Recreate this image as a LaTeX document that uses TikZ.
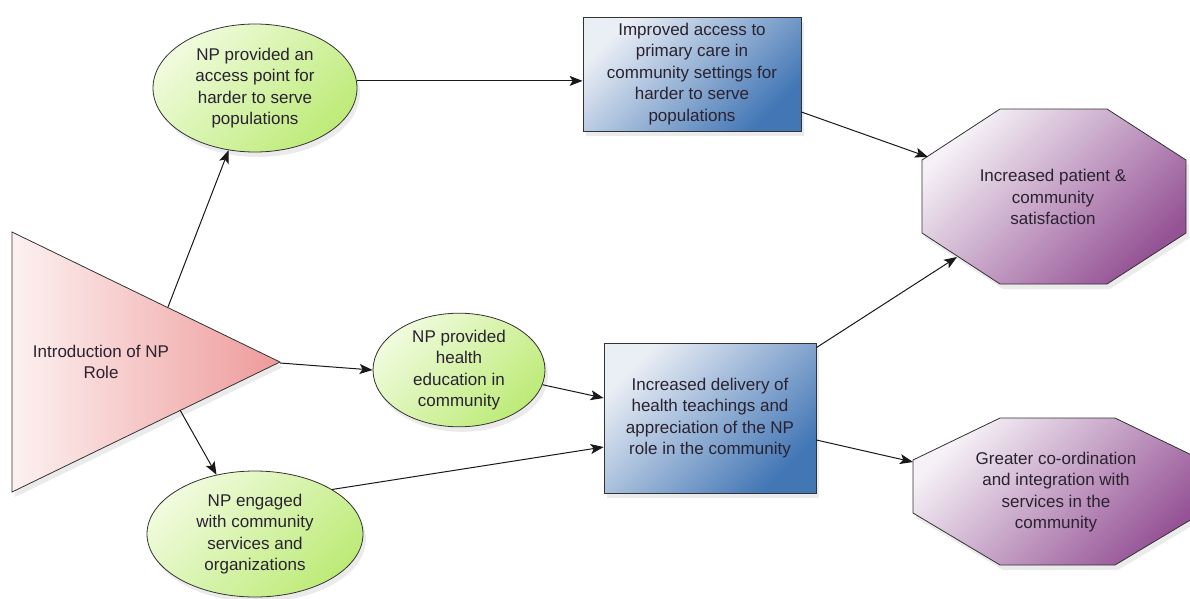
\documentclass[tikz,border=0pt]{standalone}
\usepackage{fontspec}
\setmainfont{Liberation Sans}
\usetikzlibrary{arrows.meta,shapes.geometric,shadows}
\definecolor{gA}{HTML}{F0FBDD}
\definecolor{gB}{HTML}{BDEB78}
\definecolor{bA}{HTML}{EAEEF5}
\definecolor{bM}{HTML}{C6D3E5}
\definecolor{bB}{HTML}{4276B5}
\definecolor{pA}{HTML}{F5F1F6}
\definecolor{pM}{HTML}{D2BAD3}
\definecolor{pB}{HTML}{955295}
\definecolor{rA}{HTML}{FDF1F1}
\definecolor{rB}{HTML}{EE9A9A}
\definecolor{txt}{HTML}{2A2230}
\begin{document}
\begin{tikzpicture}[x=1pt,y=-1pt,
  lbl/.style={font=\fontsize{17}{21.5}\selectfont, text=txt, align=center},
  shad/.style={drop shadow={opacity=0.16,shadow xshift=3pt,shadow yshift=-5pt}},
  outl/.style={draw=black!80, line width=0.8pt},
  ell/.style={ellipse, outl, top color=gA, bottom color=gB, shading angle=45, inner sep=0pt, lbl, shad},
  bluebox/.style={rectangle, outl, top color=bA, middle color=bM, bottom color=bB, shading angle=45, inner sep=0pt, lbl, shad},
  octa/.style={outl, top color=pA, middle color=pM, bottom color=pB, shading angle=45, shad},
  arr/.style={-{Stealth[length=13pt,width=10pt,inset=3pt]}, line width=1pt, draw=black!90}
]
\useasboundingbox (0,0) rectangle (1190,598);
\clip (0,0) rectangle (1190,598);

% triangle
\path[outl, left color=rA, right color=rB, shad] (12,232) -- (280,362) -- (12,492) -- cycle;
\node[lbl] (tri) at (101,362) {Introduction of NP\\Role};
\coordinate (triup) at (168,307);
\coordinate (triapex) at (280,363);
\coordinate (trilow) at (180,410);

% ellipses
\node[ell, minimum width=204pt, minimum height=128pt] (e1) at (255,88)
  {NP provided an\\access point for\\harder to serve\\populations};
\node[ell, minimum width=172pt, minimum height=110pt] (e2) at (459,370)
  {NP provided\\health\\education in\\community};
\node[ell, minimum width=216pt, minimum height=126pt] (e3) at (255,534)
  {NP engaged\\with community\\services and\\organizations};

% boxes
\node[bluebox, minimum width=218pt, minimum height=114pt] (b1) at (692,74)
  {Improved access to\\primary care in\\community settings for\\harder to serve\\populations};
\node[bluebox, minimum width=212pt, minimum height=150pt] (b2) at (710,418)
  {Increased delivery of\\health teachings and\\appreciation of the NP\\role in the community};

% octagons
\path[octa] (922,160) -- (1000,109) -- (1107,109) -- (1186,160) -- (1186,233) -- (1107,284) -- (1000,284) -- (922,233) -- cycle;
\node[lbl] (o1) at (1053,197) {Increased patient \&\\community\\satisfaction};
\coordinate (o1a) at (928,157);
\coordinate (o1b) at (957,257);

\path[octa] (913,460) -- (1000,418) -- (1115,418) -- (1202,460) -- (1202,513) -- (1115,565) -- (1000,565) -- (913,513) -- cycle;
\node[lbl] (o2) at (1056,492) {Greater co-ordination\\and integration with\\services in the\\community};
\coordinate (o2a) at (913,462);

% connectors
\draw[arr] (triup) -- (e1.247);
\draw[arr] (e1.4.5) -- (e1.4.5 -| b1.west);
\draw[arr] ([yshift=-38pt]b1.east) -- (o1a);
\draw[arr] (triapex) -- (e2.west);
\draw[arr] (trilow) -- (e3.123);
\draw[arr] (e2.-10) -- ([yshift=20pt]b2.west);
\draw[arr] (e3.30) -- ([yshift=-29pt]b2.west);
\draw[arr] ([yshift=-5pt]b2.north east) -- (o1b);
\draw[arr] ([yshift=-22pt]b2.east) -- (o2a);
\end{tikzpicture}
\end{document}
